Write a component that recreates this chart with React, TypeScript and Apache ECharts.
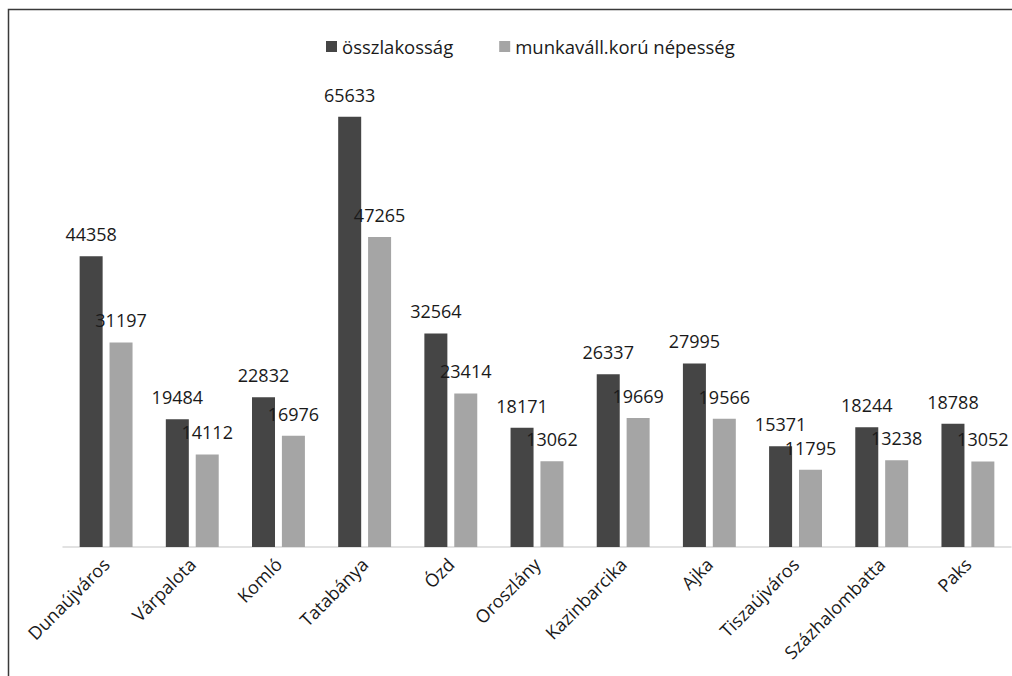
import React, { useEffect, useRef } from "react";
import * as echarts from "echarts";

const categories = [
  "Dunaújváros",
  "Várpalota",
  "Komló",
  "Tatabánya",
  "Ózd",
  "Oroszlány",
  "Kazinbarcika",
  "Ajka",
  "Tiszaújváros",
  "Százhalombatta",
  "Paks",
];
const totalPopulation = [44358, 19484, 22832, 65633, 32564, 18171, 26337, 27995, 15371, 18244, 18788];
const workingAgePopulation = [31197, 14112, 16976, 47265, 23414, 13062, 19669, 19566, 11795, 13238, 13052];
const seriesNames = ["összlakosság", "munkaváll.korú népesség"];

const FONT = "'Open Sans', 'Noto Sans', sans-serif";

export default function App() {
  const ref = useRef<HTMLDivElement>(null);
  useEffect(() => {
    if (!ref.current) return;
    const chart = echarts.init(ref.current, undefined, { renderer: "svg" });
    chart.setOption({
      animation: false,
      backgroundColor: "#ffffff",
      textStyle: { fontFamily: FONT },
      graphic: [
        {
          type: "rect",
          shape: { x: 8.5, y: 9.5, width: 1030, height: 700 },
          style: { fill: "none", stroke: "#3a3a3a", lineWidth: 1.5 },
          silent: true,
        },
      ],
      legend: {
        left: 321,
        top: 32,
        itemWidth: 11,
        itemHeight: 11,
        itemGap: 46,
        icon: "rect",
        textStyle: { fontFamily: FONT, fontSize: 18.5, color: "#1a1a1a" },
        data: seriesNames,
      },
      grid: { left: 63, right: 1, top: 88, bottom: 129, containLabel: false },
      xAxis: {
        type: "category",
        data: categories,
        axisLine: { show: true, lineStyle: { color: "#d9d9d9", width: 1.5 } },
        axisTick: { show: false },
        axisLabel: {
          rotate: 45,
          interval: 0,
          margin: 14,
          fontFamily: FONT,
          fontSize: 18,
          color: "#1a1a1a",
        },
      },
      yAxis: {
        type: "value",
        min: 0,
        max: 70000,
        show: false,
        splitLine: { show: false },
      },
      series: [
        {
          name: seriesNames[0],
          type: "bar",
          data: totalPopulation,
          barWidth: 23,
          barGap: "30%",
          itemStyle: { color: "#454545" },
          label: {
            show: true,
            position: "top",
            distance: 13,
            fontFamily: FONT,
            fontSize: 18,
            color: "#1a1a1a",
          },
        },
        {
          name: seriesNames[1],
          type: "bar",
          data: workingAgePopulation,
          barWidth: 23,
          barGap: "30%",
          itemStyle: { color: "#a5a5a5" },
          label: {
            show: true,
            position: "top",
            distance: 13,
            fontFamily: FONT,
            fontSize: 18,
            color: "#1a1a1a",
          },
        },
      ],
    });
    return () => chart.dispose();
  }, []);
  return (
    <div
      ref={ref}
      style={{ position: "absolute", left: 0, top: 0, width: 1012, height: 676 }}
    />
  );
}
